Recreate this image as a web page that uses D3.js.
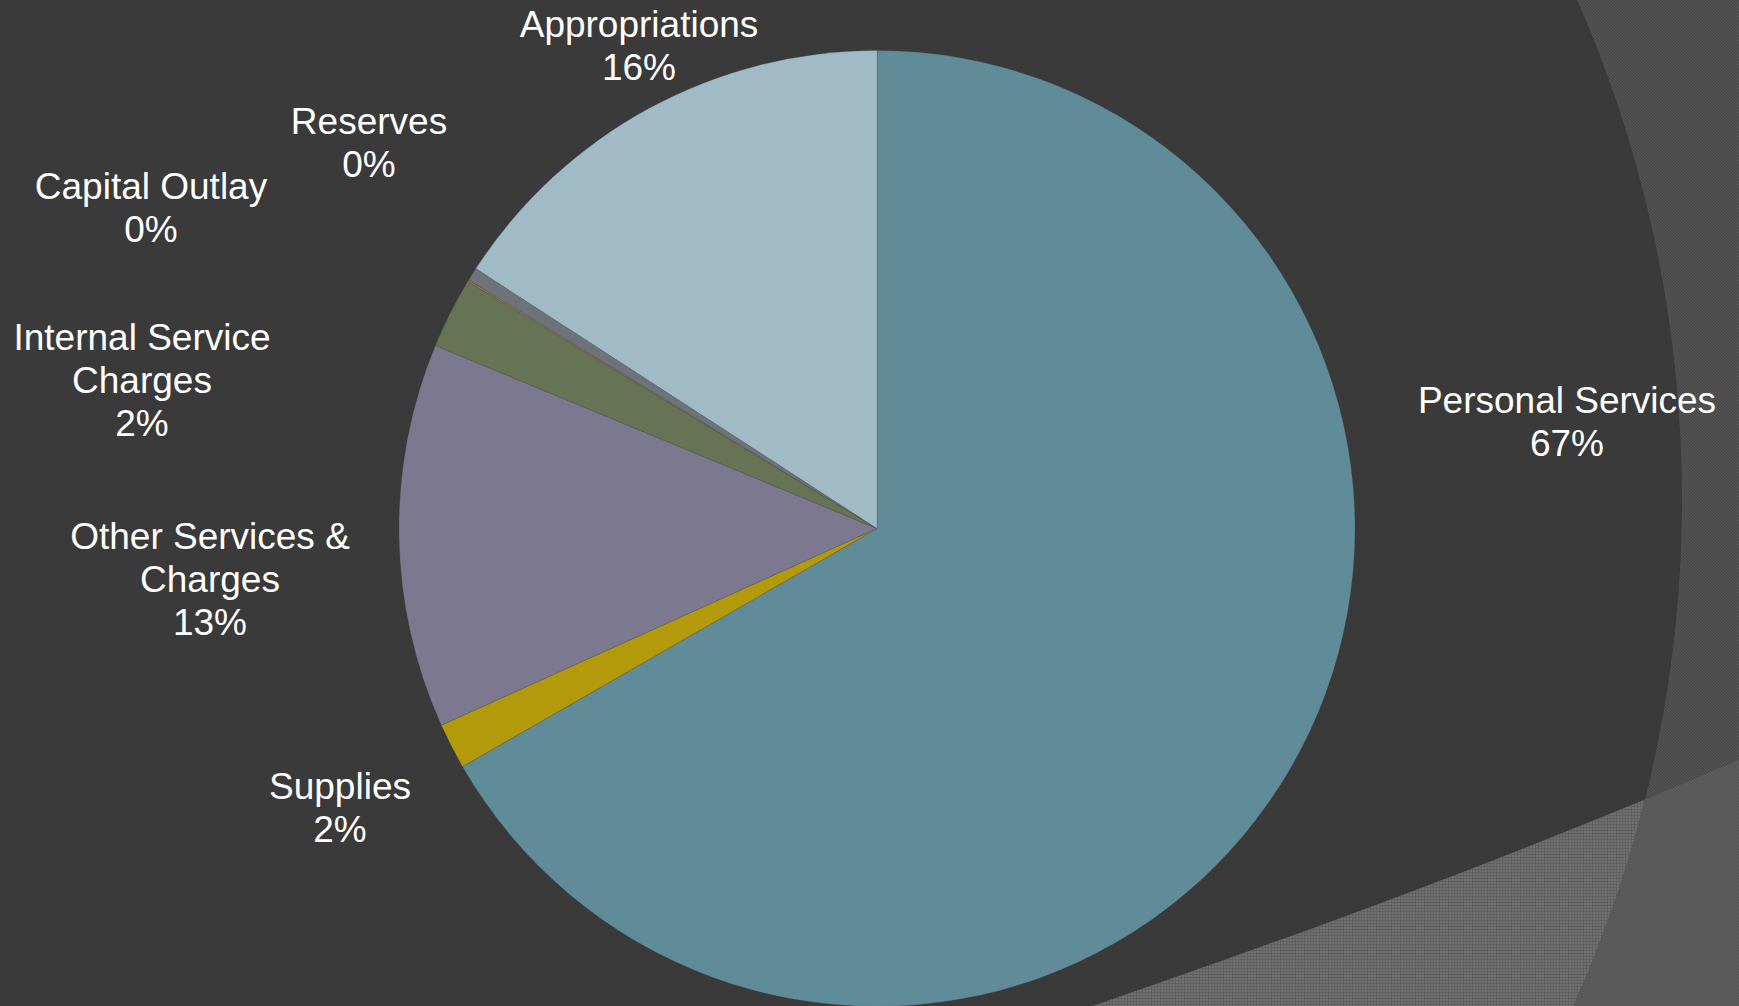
<!DOCTYPE html>
<html>
<head>
<meta charset="utf-8">
<script src="https://d3js.org/d3.v7.min.js"></script>
<style>
  html, body { margin: 0; padding: 0; background: #3a3a3a; overflow: hidden; }
  svg { display: block; }
</style>
</head>
<body>
<svg id="chart" width="1739" height="1006"></svg>
<script>
// Budget shares by expense category (percent of total), clockwise from 12 o'clock
const categories = [
  "Personal Services",
  "Supplies",
  "Other Services & Charges",
  "Internal Service Charges",
  "Capital Outlay",
  "Reserves",
  "Appropriations"
];
const shares = [66.7, 1.55, 13.0, 2.4, 0.05, 0.45, 15.85];

// How each category name wraps in its label
const labelLines = [
  ["Personal Services"],
  ["Supplies"],
  ["Other Services &", "Charges"],
  ["Internal Service", "Charges"],
  ["Capital Outlay"],
  ["Reserves"],
  ["Appropriations"]
];

const sliceColors = ["#608b99", "#b39a0a", "#7b788f", "#667455", "#9e7f52", "#6d727b", "#a0bbc6"];

// Label block placement: centre x and middle of first line
const labelPlacement = [
  { x: 1567, y: 400 },
  { x: 340, y: 786 },
  { x: 210, y: 536 },
  { x: 142, y: 337 },
  { x: 151, y: 186 },
  { x: 369, y: 121 },
  { x: 639, y: 24 }
];

const W = 1739, H = 1006;
const svg = d3.select("#chart");
const defs = svg.append("defs");

// --- Background texture patterns ---
function texture(id, base, mark, kind) {
  const p = defs.append("pattern")
    .attr("id", id).attr("patternUnits", "userSpaceOnUse")
    .attr("width", 3).attr("height", 3);
  p.append("rect").attr("width", 3).attr("height", 3).attr("fill", base);
  if (kind === "grid") {
    p.append("rect").attr("x", 0).attr("y", 2).attr("width", 3).attr("height", 1).attr("fill", mark);
    p.append("rect").attr("x", 2).attr("y", 0).attr("width", 1).attr("height", 2).attr("fill", mark);
  } else {
    p.append("rect").attr("x", 0).attr("y", 0).attr("width", 1).attr("height", 1).attr("fill", mark);
    p.append("rect").attr("x", 1).attr("y", 1).attr("width", 1).attr("height", 1).attr("fill", mark);
    p.append("rect").attr("x", 2).attr("y", 2).attr("width", 1).attr("height", 1).attr("fill", mark);
  }
}
texture("texOuter", "#4b4b4b", "#555555", "diag");
texture("texOuterLow", "#575757", "#5f5f5f", "diag");
texture("texBand", "#707070", "#616161", "grid");

// Large ring boundary: dark interior, textured outside
const ringCx = 442, ringCy = 499, ringR = 1240;
defs.append("clipPath").attr("id", "insideRing")
  .append("circle").attr("cx", ringCx).attr("cy", ringCy).attr("r", ringR);
defs.append("mask").attr("id", "outsideRing")
  .call(m => {
    m.append("rect").attr("width", W).attr("height", H).attr("fill", "white");
    m.append("circle").attr("cx", ringCx).attr("cy", ringCy).attr("r", ringR).attr("fill", "black");
  });

// Sweeping band across the lower right corner (one smooth quadratic edge)
const bandPath = "M1040,1024 Q1476,876 1780,742 L1780,1030 L1040,1030 Z";

const bg = svg.append("g");
bg.append("rect").attr("width", W).attr("height", H).attr("fill", "#3a3a3a");
bg.append("rect").attr("width", W).attr("height", H).attr("fill", "url(#texOuter)").attr("mask", "url(#outsideRing)");
bg.append("path").attr("d", bandPath).attr("fill", "url(#texBand)").attr("clip-path", "url(#insideRing)");
bg.append("path").attr("d", bandPath).attr("fill", "url(#texOuterLow)").attr("mask", "url(#outsideRing)");

// --- Pie ---
const cx = 877, cy = 528.5, radius = 478;
const total = d3.sum(shares);
const data = categories.map((c, i) => ({ category: c, value: shares[i], lines: labelLines[i] }));

const pie = d3.pie().value(d => d.value).sort(null).startAngle(0).endAngle(2 * Math.PI);
const arc = d3.arc().innerRadius(0).outerRadius(radius);
const color = d3.scaleOrdinal().domain(categories).range(sliceColors);

const g = svg.append("g").attr("transform", `translate(${cx},${cy})`);
g.selectAll("path.slice")
  .data(pie(data))
  .join("path")
  .attr("class", "slice")
  .attr("d", arc)
  .attr("fill", d => color(d.data.category))
  .attr("stroke", "#4a4a4a")
  .attr("stroke-opacity", 0.35)
  .attr("stroke-width", 0.6);

// --- Data labels ---
const pct = d3.format(".0%");
const fontSize = 37, lineGap = 43;
const labels = svg.append("g")
  .attr("font-family", "'Liberation Sans', Arial, sans-serif")
  .attr("font-size", fontSize)
  .attr("fill", "#ffffff")
  .attr("text-anchor", "middle");

data.forEach((d, i) => {
  const pos = labelPlacement[i];
  const rows = d.lines.concat([pct(d.value / total)]);
  const t = labels.append("text");
  rows.forEach((row, k) => {
    t.append("tspan")
      .attr("x", pos.x)
      .attr("y", pos.y + k * lineGap + fontSize * 0.355)
      .text(row);
  });
});
</script>
</body>
</html>
